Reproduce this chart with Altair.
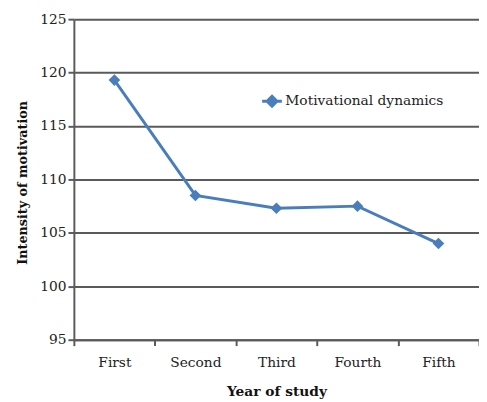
import altair as alt
import pandas as pd

years = ["First", "Second", "Third", "Fourth", "Fifth"]
values = [119.3, 108.5, 107.3, 107.5, 104.0]
series_name = "Motivational dynamics"
y_ticks = [95, 100, 105, 110, 115, 120, 125]

df = pd.DataFrame({"year": years, "value": values, "series": [series_name] * len(years)})

FONT = "DejaVu Serif"
BLUE = "#4a7ebb"
GRID = "#5a5a5a"

x_enc = alt.X(
    "year:N",
    sort=years,
    title="Year of study",
    scale=alt.Scale(type="band", paddingInner=0, paddingOuter=0),
    bandPosition=0.5,
    axis=alt.Axis(
        tickBand="extent",
        labelAngle=0,
        labelFont=FONT,
        labelFontSize=14,
        labelColor="#222222",
        labelPadding=10,
        titleFont=FONT,
        titleFontSize=14,
        titleFontWeight="bold",
        titleColor="#111111",
        titlePadding=16,
        tickColor=GRID,
        tickWidth=2,
        tickSize=6,
        domainColor=GRID,
        domainWidth=2,
        grid=False,
    ),
)

y_enc = alt.Y(
    "value:Q",
    title="Intensity of motivation",
    scale=alt.Scale(domain=[95, 125], nice=False, zero=False),
    axis=alt.Axis(
        values=y_ticks,
        labelFont=FONT,
        labelFontSize=14,
        labelColor="#222222",
        labelPadding=2,
        titleFont=FONT,
        titleFontSize=13,
        titleFontWeight="bold",
        titleColor="#111111",
        titlePadding=10,
        titleY=166,
        tickColor=GRID,
        tickWidth=2,
        tickSize=6,
        domainColor=GRID,
        domainWidth=2,
        grid=True,
        gridColor=GRID,
        gridWidth=2,
    ),
)

color_enc = alt.Color(
    "series:N",
    scale=alt.Scale(domain=[series_name], range=[BLUE]),
    legend=alt.Legend(
        title=None,
        orient="none",
        legendX=190,
        legendY=72,
        symbolType="M-1,0L1,0M0,-0.5L0.5,0L0,0.5L-0.5,0Z",
        symbolSize=400,
        symbolStrokeWidth=3,
        symbolStrokeColor=BLUE,
        symbolFillColor=BLUE,
        labelFont=FONT,
        labelFontSize=14,
        labelColor="#222222",
        labelOffset=2,
        labelLimit=400,
    ),
)

base = alt.Chart(df).encode(x=x_enc, y=y_enc, color=color_enc)

line = base.mark_line(strokeWidth=3)
points = base.mark_point(shape="diamond", filled=True, size=140, opacity=1)

chart = (
    (line + points)
    .properties(
        width=412,
        height=326,
        autosize=alt.AutoSizeParams(type="none"),
        padding={"left": 67, "top": 8, "right": 0, "bottom": 60},
    )
    .configure_view(stroke=None)
)

chart.save("out.html", embed_options={"renderer": "svg", "actions": False})
